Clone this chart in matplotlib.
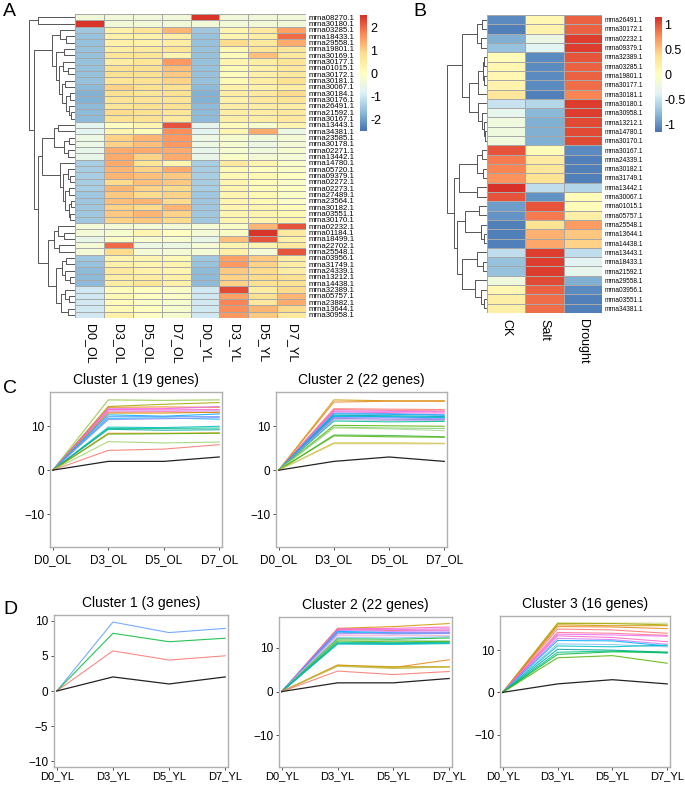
import numpy as np
import matplotlib
matplotlib.use("Agg")
import matplotlib.pyplot as plt
from matplotlib.colors import LinearSegmentedColormap

plt.rcParams['font.family'] = ['Liberation Sans', 'DejaVu Sans']

# ---------------- DATA ----------------
a_rows = ["mrna08270.1", "mrna30180.1", "mrna03285.1", "mrna18433.1", "mrna29558.1", "mrna19801.1",
          "mrna30169.1", "mrna30177.1", "mrna01015.1", "mrna30172.1", "mrna30181.1", "mrna30067.1",
          "mrna30184.1", "mrna30176.1", "mrna26491.1", "mrna21592.1", "mrna30167.1", "mrna13443.1",
          "mrna34381.1", "mrna23585.1", "mrna30178.1", "mrna02271.1", "mrna13442.1", "mrna14780.1",
          "mrna05720.1", "mrna09379.1", "mrna02272.1", "mrna02273.1", "mrna27489.1", "mrna23564.1",
          "mrna30182.1", "mrna03551.1", "mrna30170.1", "mrna02232.1", "mrna01184.1", "mrna18499.1",
          "mrna22702.1", "mrna25548.1", "mrna03956.1", "mrna31749.1", "mrna24339.1", "mrna13212.1",
          "mrna14438.1", "mrna32389.1", "mrna05757.1", "mrna23882.1", "mrna13644.1", "mrna30958.1"]
a_cols = ["D0_OL", "D3_OL", "D5_OL", "D7_OL", "D0_YL", "D3_YL", "D5_YL", "D7_YL"]
a_vals = [
    [-0.35, -0.35, -0.35, -0.35, 2.5, -0.35, -0.35, -0.35],
    [2.5, -0.35, -0.35, -0.35, -0.35, -0.35, -0.35, -0.35],
    [-1.5, 0.4, 0.7, 1.3, -1.5, 0.3, 0.6, 1.5],
    [-1.6, 0.4, 0.4, 0.5, -1.6, 0.3, 0.5, 2.0],
    [-1.6, 0.4, 0.4, 0.5, -1.6, 0.9, 0.6, 1.4],
    [-1.6, 0.5, 0.6, 0.7, -1.6, 0.2, 0.7, 0.7],
    [-1.6, 0.7, 0.7, 0.3, -1.6, 0.1, 1.2, 0.6],
    [-1.6, 0.5, 0.7, 1.6, -1.6, 0.3, 0.5, 0.7],
    [-1.6, 0.8, 0.8, 1.2, -1.6, 0.2, 0.4, 0.6],
    [-1.6, 0.8, 0.8, 1.1, -1.6, 0.1, 0.4, 0.6],
    [-1.6, 0.7, 0.8, 1.0, -1.6, 0.2, 0.5, 0.8],
    [-1.7, 1.0, 0.8, 0.8, -1.7, 0.4, 0.4, 0.5],
    [-1.8, 0.8, 0.7, 0.8, -1.8, 0.5, 0.6, 0.9],
    [-1.8, 0.7, 0.7, 0.7, -1.8, 0.4, 0.6, 0.7],
    [-1.7, 0.7, 0.8, 0.8, -1.7, 0.5, 0.5, 0.5],
    [-1.7, 0.9, 0.8, 0.7, -1.7, 0.5, 0.5, 0.6],
    [-1.7, 0.8, 0.8, 0.6, -1.7, 0.5, 0.5, 0.6],
    [-0.7, 0.0, 0.3, 2.2, -0.7, 0.1, -0.2, 0.3],
    [-0.7, 0.3, 0.1, 1.7, -0.7, 0.3, 1.4, -0.5],
    [-0.5, 1.0, 1.3, 1.6, -0.5, -0.2, -0.4, -0.3],
    [-0.5, 1.0, 1.2, 1.6, -0.5, -0.2, -0.5, -0.3],
    [-0.6, 1.4, 1.4, 1.4, -0.6, -0.2, -0.4, -0.2],
    [-0.6, 1.4, 1.0, 1.4, -0.6, -0.1, -0.3, -0.3],
    [-1.4, 1.4, 0.7, 0.3, -1.4, 0.6, 0.3, -0.1],
    [-1.4, 1.3, 1.0, 1.4, -1.4, 0.2, 0.0, -0.1],
    [-1.4, 1.3, 1.2, 1.1, -1.4, 0.2, 0.2, 0.0],
    [-1.4, 0.9, 1.2, 1.1, -1.4, 0.3, 0.1, -0.1],
    [-1.4, 1.3, 1.0, 0.9, -1.4, 0.3, 0.1, 0.0],
    [-1.5, 1.1, 0.9, 1.0, -1.5, 0.3, 0.2, -0.1],
    [-1.5, 1.2, 1.3, 0.9, -1.5, 0.3, 0.2, -0.1],
    [-1.5, 1.0, 0.9, 1.3, -1.5, 0.3, 0.3, 0.1],
    [-1.5, 1.1, 1.3, 1.0, -1.5, 0.3, 0.3, 0.2],
    [-1.5, 1.0, 1.1, 0.9, -1.5, 0.3, 0.3, 0.3],
    [-0.3, -0.3, -0.3, -0.3, -0.3, -0.1, 1.3, 2.2],
    [-0.3, -0.2, 0.3, 0.0, -0.3, -0.1, 2.5, 0.6],
    [-0.6, -0.1, -0.2, -0.2, -0.6, 1.2, 2.2, 0.4],
    [-0.3, 2.0, -0.5, -0.5, -0.3, 0.3, 0.3, 0.6],
    [-0.3, 0.9, -0.3, -0.3, -0.3, 0.4, -0.3, 2.2],
    [-1.5, 0.3, 0.3, 0.2, -1.5, 1.5, 1.1, 0.5],
    [-1.6, 0.4, 0.3, 0.3, -1.6, 1.6, 1.0, 0.5],
    [-1.7, 0.6, 0.4, 0.3, -1.7, 1.1, 0.9, 0.5],
    [-1.7, 0.5, 0.5, 0.4, -1.7, 1.0, 0.9, 0.8],
    [-1.7, 0.5, 0.7, 0.4, -1.7, 1.0, 0.8, 0.8],
    [-1.0, 0.1, 0.0, -0.1, -1.0, 2.3, 0.5, 0.9],
    [-1.0, 0.2, 0.0, -0.1, -1.0, 1.5, 0.8, 1.3],
    [-1.0, 0.1, -0.1, -0.2, -1.0, 1.8, 0.6, 1.4],
    [-1.0, 0.2, 0.0, -0.2, -1.0, 1.7, 1.3, 0.9],
    [-1.0, 0.4, 0.0, -0.2, -1.0, 1.6, 1.1, 0.6],
]
a_cbar_ticks = [-2, -1, 0, 1, 2]

# row dendrogram of A: (merge height, left, right); leaves are row indices
a_tree = (43, (35, 0, 1),
          (38, (22, (14, 2, (8, 3, 4)),
                    (18, (10, 5, 6),
                         (15, (11, 7, (7, 8, 9)),
                              (12, (9, 10, 11), (8, (5, 12, 13), (6, 14, (4, 15, 16))))))),
               (35, (31, (20, (16, 17, 18), (10, (6, 19, 20), (7, 21, 22))),
                         (14, 23, (11, (7, 24, (5, 25, 26)),
                                      (9, (6, 27, 28), (6, (4, 29, 30), (5, 31, 32)))))),
                    (25, (20, (16, 33, (10, 34, 35)), (15, 36, 37)),
                         (18, (12, (8, 38, 39), (9, 40, (5, 41, 42))),
                              (13, (9, 43, (6, 44, 45)), (7, 46, 47)))))))

b_rows = ["mrna26491.1", "mrna30172.1", "mrna02232.1", "mrna09379.1", "mrna32389.1", "mrna03285.1",
          "mrna19801.1", "mrna30177.1", "mrna30181.1", "mrna30180.1", "mrna30958.1", "mrna13212.1",
          "mrna14780.1", "mrna30170.1", "mrna30167.1", "mrna24339.1", "mrna30182.1", "mrna31749.1",
          "mrna13442.1", "mrna30067.1", "mrna01015.1", "mrna05757.1", "mrna25548.1", "mrna13644.1",
          "mrna14438.1", "mrna13443.1", "mrna18433.1", "mrna21592.1", "mrna29558.1", "mrna03956.1",
          "mrna03551.1", "mrna34381.1"]
b_cols = ["CK", "Salt", "Drought"]
b_vals = [
    [-1.05, 0.1, 0.95], [-1.1, 0.15, 0.95], [-0.85, -0.25, 1.1], [-0.75, -0.35, 1.1],
    [0.05, -1.05, 1.0], [0.1, -1.05, 0.95], [0.1, -1.05, 0.95], [0.15, -1.05, 0.9],
    [0.3, -1.1, 0.8], [-0.5, -0.6, 1.1], [-0.3, -0.8, 1.1], [-0.2, -0.85, 1.05],
    [-0.2, -0.85, 1.05], [-0.2, -0.85, 1.05], [1.0, 0.05, -1.05], [0.85, 0.25, -1.1],
    [0.8, 0.3, -1.1], [0.75, 0.35, -1.1], [1.15, -0.55, -0.6], [1.0, -1.0, 0.05],
    [-0.95, 1.0, 0.05], [-1.0, 0.85, 0.2], [-1.1, 0.35, 0.7], [-1.1, 0.6, 0.5],
    [-1.1, 0.65, 0.45], [-0.55, 1.1, -0.55], [-0.75, 1.1, -0.35], [-0.75, 1.1, -0.3],
    [-0.2, 1.05, -0.85], [0.1, 0.95, -1.05], [0.2, 0.9, -1.1], [0.2, 0.9, -1.1],
]
b_cbar_ticks = [-1, -0.5, 0, 0.5, 1]
b_tree = (40, (25, (10, (5, 0, 1), (6, 2, 3)),
                   (18, (9, (4, (3, 4, 5), (3, 6, 7)), 8),
                        (9, 9, (5, 10, (3, 11, (2, 12, 13)))))),
              (33, (28, (10, (5, 14, 15), (4, 16, 17)), (10, 18, 19)),
                   (30, (22, (8, 20, 21), (6, 22, (3, 23, 24))),
                        (25, (10, 25, (4, 26, 27)), (12, 28, (6, 29, (3, 30, 31)))))))

ol_days = ["D0_OL", "D3_OL", "D5_OL", "D7_OL"]
yl_days = ["D0_YL", "D3_YL", "D5_YL", "D7_YL"]

# values at D3, D5, D7 (D0 is 0); last entry of each list is the black reference line
c1_lines = [[16.0, 15.9, 16.0], [14.5, 15.0, 15.4], [14.3, 14.4, 14.3], [14.0, 14.0, 14.5],
            [13.8, 13.9, 13.8], [13.5, 13.5, 13.5], [13.2, 13.3, 13.1], [13.0, 13.0, 13.2],
            [12.6, 12.3, 12.8], [12.2, 12.2, 12.2], [11.8, 11.9, 11.6], [11.5, 11.7, 12.0],
            [9.8, 9.7, 10.0], [9.5, 9.5, 9.6], [9.3, 9.1, 9.2], [8.4, 8.4, 8.5],
            [8.2, 8.3, 8.4], [6.5, 6.2, 6.4], [4.5, 4.8, 5.8], [2.0, 2.0, 3.0]]
c2_lines = [[16.0, 15.8, 15.8], [15.5, 15.7, 15.7], [14.0, 13.9, 13.8], [13.8, 13.6, 13.5],
            [13.5, 13.4, 13.3], [13.3, 13.1, 13.0], [13.0, 12.9, 12.6], [12.8, 12.7, 12.5],
            [12.5, 12.4, 12.2], [12.3, 12.2, 12.0], [12.2, 12.1, 11.9], [12.0, 11.9, 11.7],
            [11.8, 11.6, 11.5], [11.5, 11.3, 11.3], [11.2, 11.0, 11.1], [10.2, 10.1, 10.0],
            [9.8, 9.6, 9.5], [9.6, 9.4, 9.0], [8.0, 7.9, 7.6], [7.8, 7.6, 7.5],
            [6.2, 6.2, 6.1], [6.0, 6.0, 6.0], [2.0, 3.0, 2.0]]
d1_lines = [[9.8, 8.3, 8.9], [8.2, 7.0, 7.5], [5.7, 4.4, 5.0], [2.0, 1.0, 2.0]]
d2_lines = [[14.5, 14.9, 15.6], [14.4, 14.5, 14.8], [14.3, 14.2, 14.4], [14.2, 14.0, 14.1],
            [14.0, 13.8, 13.9], [13.8, 13.5, 13.5], [13.6, 13.3, 13.4], [13.4, 13.2, 13.3],
            [13.2, 13.4, 13.6], [12.8, 12.8, 12.8], [12.4, 12.3, 12.6], [12.1, 12.0, 12.3],
            [11.9, 11.7, 11.6], [11.6, 11.4, 11.5], [11.3, 11.2, 11.3], [11.0, 11.0, 11.1],
            [10.9, 10.8, 11.0], [6.1, 5.5, 7.3], [6.0, 5.7, 5.7], [5.9, 5.4, 5.6],
            [5.8, 5.3, 5.7], [4.7, 3.9, 4.6], [2.0, 2.0, 3.0]]
d3_lines = [[16.5, 16.4, 16.4], [16.3, 16.3, 16.0], [16.0, 15.8, 15.8], [15.6, 15.5, 15.1],
            [15.0, 14.8, 14.0], [14.2, 14.0, 13.5], [13.8, 13.6, 13.3], [13.4, 13.0, 12.0],
            [12.8, 12.5, 11.4], [12.3, 12.2, 11.0], [11.5, 11.3, 10.8], [11.0, 10.8, 11.2],
            [10.2, 10.0, 9.5], [9.5, 9.8, 9.3], [9.0, 9.6, 9.5], [8.2, 8.7, 6.9],
            [2.0, 3.0, 2.0]]

# ---------------- STYLE ----------------
c1_colors = ['#8DC63F', '#A3A500', '#E7861B', '#E76BF3', '#FF61C3', '#C77CFF', '#FF6C91', '#D39200',
             '#00A9FF', '#619CFF', '#00B4F0', '#9590FF', '#00BFC4', '#00C08B', '#00A99D', '#E7861B',
             '#53B400', '#9BD36A', '#F8766D']
c2_colors = ['#D39200', '#E7861B', '#F8766D', '#FF6C91', '#E76BF3', '#FF61C3', '#619CFF', '#00A9FF',
             '#00A5A0', '#00BFC4', '#00B4F0', '#9590FF', '#8C7BD9', '#B5A8F0', '#00C08B', '#53B400',
             '#7CCB6A', '#A8D98A', '#39B54A', '#53B400', '#C4B400', '#D6CF86']
d1_colors = ['#619CFF', '#00BA38', '#F8766D']
d2_colors = ['#D39200', '#FF61C3', '#E76BF3', '#FF6C91', '#C77CFF', '#00A9FF', '#00B4F0', '#9590FF',
             '#B58AF0', '#F5A3C8', '#7FC6F0', '#00BA38', '#8ED08B', '#53B400', '#00C08B', '#00A5A0',
             '#00BFC4', '#E7861B', '#C49A00', '#D6C400', '#BDB76B', '#F8766D']
d3_colors = ['#C9CF7A', '#A3A500', '#D39200', '#E7861B', '#F8766D', '#FF6C91', '#E76BF3', '#FF61C3',
             '#C77CFF', '#00A9FF', '#7FC6F0', '#00BFC4', '#00A5A0', '#00C08B', '#00BA38', '#53B400']

W, H = 685, 786
fig = plt.figure(figsize=(W / 100, H / 100), dpi=100)


def ax_px(l, t, r, b):
    return fig.add_axes([l / W, 1 - b / H, (r - l) / W, (b - t) / H])


cmap = LinearSegmentedColormap.from_list(
    "rdylbu", ['#4575B4', '#91BFDB', '#E0F3F8', '#FFFFBF', '#FEE090', '#FC8D59', '#D73027'])


def draw_tree(ax, node, color='#555555', lw=0.7):
    """Draw a horizontal dendrogram; returns (y centre, height)."""
    if isinstance(node, int):
        return node + 0.5, 0.0
    h, left, right = node
    y1, h1 = draw_tree(ax, left, color, lw)
    y2, h2 = draw_tree(ax, right, color, lw)
    ax.plot([h1, h, h, h2], [y1, y1, y2, y2], color=color, lw=lw, solid_capstyle='butt')
    return (y1 + y2) / 2, h


def heatmap(l, t, r, b, vals, rows, cols, vmin, vmax, label_fs):
    ax = ax_px(l, t, r, b)
    data = np.array(vals)
    ax.pcolormesh(np.arange(data.shape[1] + 1), np.arange(data.shape[0] + 1), data,
                  cmap=cmap, vmin=vmin, vmax=vmax, edgecolors='#a8a8a8', linewidth=0.5)
    ax.set_xlim(0, data.shape[1])
    ax.set_ylim(data.shape[0], 0)
    ax.yaxis.tick_right()
    ax.set_yticks(np.arange(len(rows)) + 0.5)
    ax.set_yticklabels(rows, fontsize=label_fs)
    ax.set_xticks(np.arange(len(cols)) + 0.5)
    ax.set_xticklabels(cols, rotation=270, fontsize=9, va='top', ha='center')
    ax.tick_params(length=0, pad=1.5)
    ax.tick_params(axis='x', pad=4)
    for s in ax.spines.values():
        s.set_visible(False)
    return ax


def colorbar(l, t, r, b, vmin, vmax, ticks):
    cax = ax_px(l, t, r, b)
    grad = np.linspace(vmin, vmax, 200).reshape(-1, 1)
    cax.imshow(grad, aspect='auto', cmap=cmap, vmin=vmin, vmax=vmax, origin='lower',
               extent=[0, 1, vmin, vmax])
    cax.set_xticks([])
    cax.yaxis.tick_right()
    cax.set_yticks(ticks)
    cax.set_yticklabels([f"{t:g}" for t in ticks], fontsize=9)
    cax.tick_params(length=0, pad=2.5)
    for s in cax.spines.values():
        s.set_visible(False)


# ---- Panel A ----
heatmap(75, 14, 306, 318, a_vals, a_rows, a_cols, -2.5, 2.55, 5.6)
colorbar(360, 15, 367, 131, -2.5, 2.55, a_cbar_ticks)
dax = ax_px(28, 14, 75, 318)
draw_tree(dax, a_tree)
dax.set_xlim(44, 0)
dax.set_ylim(len(a_rows), 0)
dax.axis('off')

# ---- Panel B ----
heatmap(487, 15, 602, 313, b_vals, b_rows, b_cols, -1.16, 1.16, 4.7)
colorbar(655, 17, 661, 132, -1.16, 1.16, b_cbar_ticks)
dbx = ax_px(446, 15, 487, 313)
draw_tree(dbx, b_tree)
dbx.set_xlim(41, 0)
dbx.set_ylim(len(b_rows), 0)
dbx.axis('off')


# ---- Line panels ----
def line_panel(box, lines, colors, days, title, ylim, yticks, xpad=3, xfs=8.5):
    ax = ax_px(*box)
    x = np.arange(len(days))
    for vals, col in zip(lines[:-1], colors):
        ax.plot(x, [0] + list(vals), color=col, lw=0.8, alpha=0.85)
    ax.plot(x, [0] + list(lines[-1]), color='#222222', lw=0.9)
    ax.set_xlim(-0.05, 3.05)
    ax.set_ylim(*ylim)
    ax.set_xticks(x)
    ax.set_xticklabels(days, fontsize=xfs)
    ax.set_yticks(yticks)
    ax.set_yticklabels([("\u2212" + str(abs(t))) if t < 0 else str(t) for t in yticks], fontsize=8.5)
    ax.tick_params(length=2, width=0.6, color='#333333', pad=2)
    ax.tick_params(axis='x', pad=xpad)
    for s in ax.spines.values():
        s.set_color('#b0b0b0')
        s.set_linewidth(1.0)
    ax.set_title(title, fontsize=10, pad=6)
    return ax


line_panel((50, 392, 222, 547), c1_lines, c1_colors, ol_days, "Cluster 1 (19 genes)",
           (-17.5, 17.8), [-10, 0, 10])
line_panel((276, 392, 447, 547), c2_lines, c2_colors, ol_days, "Cluster 2 (22 genes)",
           (-17.5, 17.8), [-10, 0, 10])
line_panel((54, 615, 228, 767), d1_lines, d1_colors, yl_days, "Cluster 1 (3 genes)",
           (-10.8, 10.8), [-10, -5, 0, 5, 10], xpad=1, xfs=8)
line_panel((279, 617, 452, 767), d2_lines, d2_colors, yl_days, "Cluster 2 (22 genes)",
           (-17.3, 17.1), [-10, 0, 10], xpad=1, xfs=8)
line_panel((500, 616, 670, 767), d3_lines, d3_colors, yl_days, "Cluster 3 (16 genes)",
           (-17.7, 18.1), [-10, 0, 10], xpad=1, xfs=8)

# panel letters
for letter, (px, py) in zip("ABCD", [(3, 12), (413, 12), (3, 388), (3, 610)]):
    fig.text(px / W, 1 - py / H, letter, fontsize=14, va='center', ha='left')

fig.savefig("out.png", dpi=100)
